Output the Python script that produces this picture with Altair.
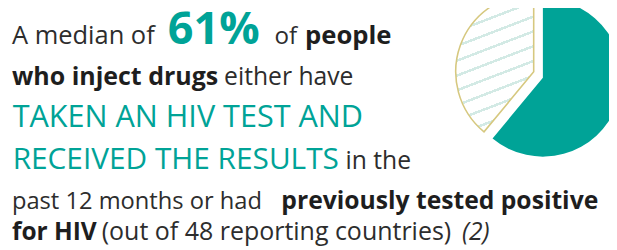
import altair as alt
import pandas as pd

# ---- data ----
categories = ["tested or previously positive", "other"]
values = [61, 39]

# text segments (content only)
segments = [
    "A median of", "61%", "of", "people",
    "who inject drugs", "either have",
    "TAKEN AN HIV TEST AND",
    "RECEIVED THE RESULTS", "in the",
    "past 12 months or had", "previously tested positive",
    "for HIV", "(out of 48 reporting countries)", "(2)",
]

# ---- layout / style (kept separate from data) ----
W, H = 609, 242
TEAL = "#00a397"
DARK = "#2d2d2d"
BOLDC = "#1e1e1e"
HATCH = "#d3eae5"
EDGE = "#d6c87f"
FONT = "Open Sans"

# x (left), baseline y, size, weight, style, color per segment (plot coords)
seg_x = [4, 162, 270, 301, 4, 219, 4.7, 4.7, 342, 4, 277, 4, 95, 460]
seg_y = [34.7, 34.7, 34.7, 34.7, 76, 76, 118.7, 162, 162, 202, 202, 233.7, 233.7, 233.7]
seg_size = [25.8, 45.5, 24.5, 26, 25.3, 25, 31, 30.2, 25, 24.0, 25.0, 24.8, 25.3, 25]
seg_weight = ["normal", "bold", "normal", "bold", "bold", "normal", "normal", "normal",
              "normal", "normal", "bold", "bold", "normal", "normal"]
seg_style = ["normal"] * 13 + ["italic"]
seg_color = [DARK, TEAL, DARK, BOLDC, BOLDC, DARK, TEAL, TEAL, DARK, DARK, BOLDC, BOLDC, DARK, DARK]

df = pd.DataFrame({"category": categories, "value": values, "order": [0, 1]})

base = (
    alt.Chart(df)
    .transform_window(end="sum(value)", frame=[None, 0], sort=[alt.SortField("order")])
    .transform_calculate(start="datum.end - datum.value")
)
theta_scale = alt.Scale(domain=[0, 100], range=[0, 6.283185307])

teal = base.transform_filter(f"datum.category == '{categories[0]}'").mark_arc(
    radius=80, fill=TEAL, strokeWidth=0
).encode(
    theta=alt.Theta("start:Q", scale=theta_scale),
    theta2="end:Q",
    x=alt.value(542),
    y=alt.value(69),
)

# hatch stripes via hard-stop linear gradient
period = 0.0882
width = 0.016
phase = 0.0484
stops = [{"offset": 0, "color": "#ffffff"}]
t = phase - width / 2
while t < 1:
    a = max(t, 0.0)
    b = min(t + width, 1.0)
    if b > 0:
        stops.append({"offset": round(a, 4), "color": "#ffffff"})
        stops.append({"offset": round(a, 4), "color": HATCH})
        stops.append({"offset": round(b, 4), "color": HATCH})
        stops.append({"offset": round(b, 4), "color": "#ffffff"})
    t += period
stops.append({"offset": 1, "color": "#ffffff"})

grad = {"gradient": "linear", "x1": 0, "y1": 0, "x2": 0.252, "y2": 1.162, "stops": stops}

hatch = base.transform_filter(f"datum.category == '{categories[1]}'").mark_arc(
    radius=79, fill=grad, stroke=EDGE, strokeWidth=1.6
).encode(
    theta=alt.Theta("start:Q", scale=theta_scale),
    theta2="end:Q",
    x=alt.value(532.7),
    y=alt.value(63),
)

layers = [teal, hatch]
for i, s in enumerate(segments):
    layers.append(
        alt.Chart(pd.DataFrame({"t": [s]}))
        .mark_text(
            align="left", baseline="alphabetic", font=FONT,
            fontSize=seg_size[i], fontWeight=seg_weight[i], fontStyle=seg_style[i],
            color=seg_color[i],
        )
        .encode(text="t:N", x=alt.value(seg_x[i]), y=alt.value(seg_y[i]))
    )

chart = (
    alt.layer(*layers)
    .properties(width=W, height=H, padding=0, autosize=alt.AutoSizeParams(type="none"),
                background="#ffffff")
    .configure_view(strokeWidth=0)
)

chart.save("out.html", embed_options={"renderer": "svg", "actions": False})
